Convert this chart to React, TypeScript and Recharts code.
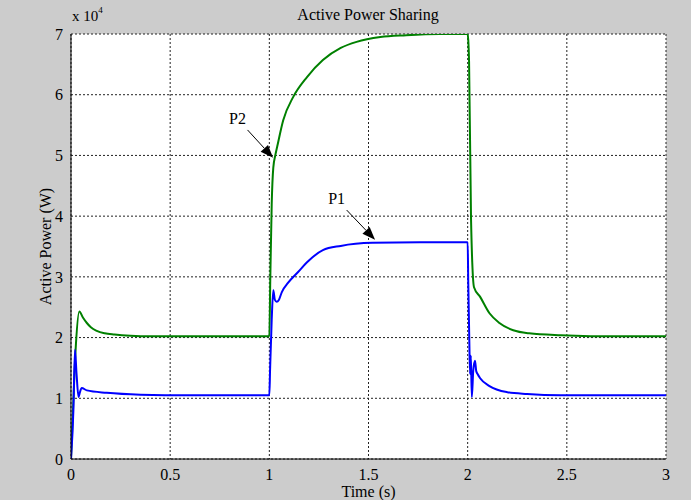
import { LineChart, Line, XAxis, YAxis, CartesianGrid, ReferenceLine } from 'recharts';

// time (s) and active power (x 10^4 W)
const p1Time = [0, 0.012, 0.02, 0.028, 0.038, 0.045, 0.054, 0.08, 0.18, 0.35, 0.6, 1.0,
  1.004, 1.012, 1.02, 1.028, 1.037, 1.048, 1.063, 1.094, 1.145, 1.19, 1.27, 1.36, 1.52, 1.76, 2.0,
  2.003, 2.008, 2.012, 2.016, 2.021, 2.028, 2.037, 2.043, 2.05, 2.063, 2.11, 2.2, 2.3, 2.47, 3.0];
const p1Power = [0, 0.8, 1.8, 1.4, 1.02, 1.1, 1.17, 1.13, 1.09, 1.06, 1.05, 1.05,
  1.5, 2.3, 2.78, 2.62, 2.59, 2.62, 2.75, 2.9, 3.08, 3.24, 3.44, 3.51, 3.56, 3.57, 3.57,
  2.9, 2.0, 1.4, 1.7, 1.02, 1.45, 1.62, 1.45, 1.4, 1.33, 1.2, 1.1, 1.07, 1.05, 1.05];

const p2Time = [0, 0.01, 0.025, 0.042, 0.06, 0.08, 0.1, 0.13, 0.17, 0.22, 0.3, 0.4, 1.0,
  1.005, 1.012, 1.02, 1.03, 1.04, 1.07, 1.12, 1.19, 1.27, 1.36, 1.44, 1.56, 1.69, 1.86, 2.0,
  2.003, 2.007, 2.017, 2.032, 2.063, 2.11, 2.16, 2.23, 2.31, 2.47, 2.77, 3.0];
const p2Power = [0, 0.8, 1.9, 2.43, 2.33, 2.24, 2.17, 2.11, 2.07, 2.05, 2.03, 2.02, 2.02,
  3.0, 4.2, 4.8, 5.0, 5.15, 5.58, 5.96, 6.29, 6.57, 6.77, 6.87, 6.95, 6.98, 7.0, 7.0,
  6.9, 6.55, 3.95, 2.83, 2.67, 2.4, 2.24, 2.12, 2.07, 2.04, 2.02, 2.02];

const xTicks = [0, 0.5, 1, 1.5, 2, 2.5, 3];
const yTicks = [0, 1, 2, 3, 4, 5, 6, 7];

// annotation arrows: [label, fromT, fromP, toT, toP]
const notes: [string, number, number, number, number][] = [
  ['P2', 0.89, 5.42, 1.019, 4.96],
  ['P1', 1.39, 4.1, 1.533, 3.61],
];

const p1Data = p1Time.map((t, i) => ({ t, p: p1Power[i] }));
const p2Data = p2Time.map((t, i) => ({ t, p: p2Power[i] }));

const font = '"Liberation Serif", "DejaVu Serif", serif';

function Arrow(props: any) {
  const { x1, y1, x2, y2, text } = props;
  const ang = Math.atan2(y2 - y1, x2 - x1);
  const len = 13;
  const w = 5;
  const bx = x2 - len * Math.cos(ang);
  const by = y2 - len * Math.sin(ang);
  const px = -Math.sin(ang) * w;
  const py = Math.cos(ang) * w;
  return (
    <g>
      <line x1={x1} y1={y1} x2={bx} y2={by} stroke="#000" strokeWidth={1} />
      <polygon points={`${x2},${y2} ${bx + px},${by + py} ${bx - px},${by - py}`} fill="#000" />
      <text x={x1 - 10} y={y1 - 6} fontFamily={font} fontSize={16} fill="#000" textAnchor="middle">{text}</text>
    </g>
  );
}

export default function App() {
  return (
    <div style={{ position: 'absolute', left: 0, top: 0, width: 691, height: 500, background: '#cccccc', fontFamily: font }}>
      <div style={{ position: 'absolute', left: 0, width: 691, top: 6, fontSize: 16 }}>
        <span style={{ position: 'absolute', left: 368, transform: 'translateX(-50%)', whiteSpace: 'nowrap' }}>Active Power Sharing</span>
        <span style={{ position: 'absolute', left: 72, top: 1, fontSize: 15, whiteSpace: 'nowrap' }}>
          x 10<sup style={{ fontSize: 9, position: 'relative', top: -2 }}>4</sup>
        </span>
      </div>
      <LineChart width={691} height={500} data={p2Data} margin={{ top: 34, right: 25, left: 21, bottom: 11 }}>
        <CartesianGrid fill="#ffffff" stroke="#222" strokeDasharray="2 2" />
        <XAxis dataKey="t" type="number" domain={[0, 3]} ticks={xTicks} height={30} allowDataOverflow
          axisLine={{ stroke: '#000' }} tickLine={false} tickMargin={4}
          tick={{ fill: '#000', fontFamily: font, fontSize: 16 }}
          label={{ value: 'Time (s)', position: 'insideBottom', offset: -8, fill: '#000', fontFamily: font, fontSize: 16 }} />
        <XAxis xAxisId="top" orientation="top" dataKey="t" type="number" domain={[0, 3]} height={0}
          tick={false} tickLine={false} axisLine={{ stroke: '#000' }} />
        <YAxis type="number" domain={[0, 7]} ticks={yTicks} width={50} allowDataOverflow
          axisLine={{ stroke: '#000' }} tickLine={false} tickMargin={2}
          tick={{ fill: '#000', fontFamily: font, fontSize: 16 }}
          label={{ value: 'Active Power (W)', angle: -90, position: 'insideLeft', offset: 24, fill: '#000', fontFamily: font, fontSize: 16, style: { textAnchor: 'middle' } }} />
        <YAxis yAxisId="right" orientation="right" type="number" domain={[0, 7]} width={0}
          tick={false} tickLine={false} axisLine={{ stroke: '#000' }} />
        <Line data={p2Data} dataKey="p" type="monotone" stroke="#008000" strokeWidth={2} dot={false} isAnimationActive={false} />
        <Line data={p1Data} dataKey="p" type="monotone" stroke="#0000ff" strokeWidth={2} dot={false} isAnimationActive={false} />
        {notes.map(([label, ft, fp, tt, tp]) => (
          <ReferenceLine key={label} segment={[{ x: ft, y: fp }, { x: tt, y: tp }]} ifOverflow="visible"
            shape={(props: any) => <Arrow {...props} text={label} />} />
        ))}
      </LineChart>
    </div>
  );
}
